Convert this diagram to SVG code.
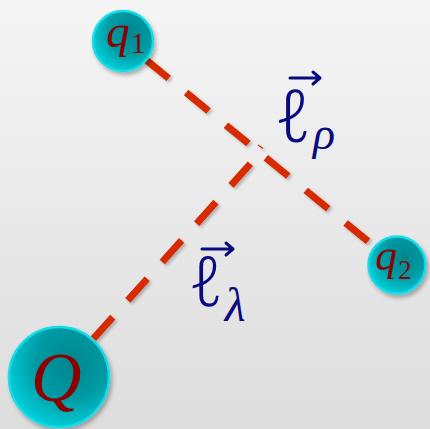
<svg xmlns="http://www.w3.org/2000/svg" width="430" height="429" viewBox="0 0 430 429">
  <defs>
    <linearGradient id="bg" x1="0" y1="0" x2="0" y2="1">
      <stop offset="0" stop-color="#f5f5f5"/>
      <stop offset="1" stop-color="#dddddd"/>
    </linearGradient>
    <radialGradient id="ball" cx="0.62" cy="0.36" r="0.78">
      <stop offset="0" stop-color="#00868e"/>
      <stop offset="0.45" stop-color="#0099a2"/>
      <stop offset="1" stop-color="#00e2ec"/>
    </radialGradient>
    <filter id="sh" x="-30%" y="-30%" width="160%" height="160%">
      <feDropShadow dx="2" dy="3" stdDeviation="2" flood-color="#000" flood-opacity="0.3"/>
    </filter>
    <filter id="shl" x="-30%" y="-30%" width="160%" height="160%">
      <feDropShadow dx="2" dy="2" stdDeviation="1.5" flood-color="#000" flood-opacity="0.25"/>
    </filter>
  </defs>
  <style>
    .dash { stroke: #d62a00; stroke-width: 7; stroke-dasharray: 29 22.5; fill: none; }
    .ball { fill: url(#ball); stroke: #18dbe8; stroke-width: 2.5; }
    .nl { font-family: "Liberation Serif", "DejaVu Serif", serif; fill: #8b0000; }
    .vl { font-family: "Liberation Serif", "DejaVu Serif", serif; fill: #0a0a80; font-style: italic; }
    .ell { font-family: "Noto Sans", "DejaVu Sans", sans-serif; font-weight: 300; font-style: italic; }
    .arr { stroke: #0a0a80; stroke-width: 3; fill: none; stroke-linecap: round; stroke-linejoin: round; }
  </style>
  <rect x="0" y="0" width="430" height="429" fill="url(#bg)"/>

  <g id="connectors" filter="url(#shl)">
    <line class="dash" x1="123" y1="41" x2="397" y2="265" stroke-dashoffset="21.5"/>
    <line class="dash" x1="59" y1="377" x2="260" y2="153"/>
    <line x1="258" y1="145" x2="263" y2="148.5" stroke="#d62a00" stroke-width="1.2"/>
  </g>

  <g id="node-q1" filter="url(#sh)">
    <circle class="ball" cx="123" cy="41" r="30"/>
    <text class="nl" x="106" y="47" font-size="47" font-style="italic">q<tspan font-size="30" font-style="normal" dx="1" dy="6">1</tspan></text>
  </g>

  <g id="node-q2" filter="url(#sh)">
    <circle class="ball" cx="397" cy="265" r="28.5"/>
    <text class="nl" x="375" y="270" font-size="44" font-style="italic">q<tspan font-size="27" font-style="normal" dx="1" dy="9">2</tspan></text>
  </g>

  <g id="node-Q" filter="url(#sh)">
    <circle class="ball" cx="59" cy="377" r="50"/>
    <text class="nl" x="31" y="401" font-size="70" font-style="italic">Q</text>
  </g>

  <g id="label-rho">
    <path class="arr" d="M290 78 H320 M313 72 L320 78 L313 84"/>
    <text class="vl" x="275" y="142" font-size="73"><tspan class="ell">ℓ</tspan><tspan font-size="46" dx="1" dy="7">ρ</tspan></text>
  </g>

  <g id="label-lambda">
    <path class="arr" d="M202 249 H233 M226 243 L233 249 L226 255"/>
    <text class="vl" x="189" y="306" font-size="69"><tspan class="ell">ℓ</tspan><tspan font-size="48" dx="1" dy="15">λ</tspan></text>
  </g>
</svg>
